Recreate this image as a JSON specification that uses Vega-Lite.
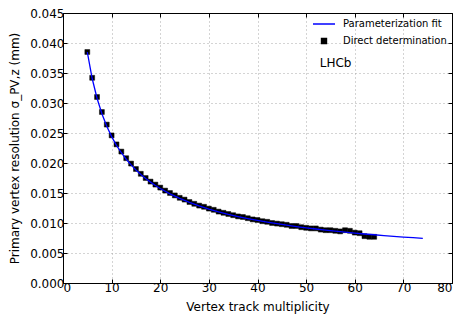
{
  "$schema": "https://vega.github.io/schema/vega-lite/v6.json",
  "width": 389,
  "height": 270,
  "autosize": "none",
  "padding": {"left": 63, "top": 13, "right": 14, "bottom": 39},
  "config": {
    "font": "DejaVu Sans",
    "view": {"stroke": "#000", "strokeWidth": 1},
    "axis": {
      "domainColor": "#000", "tickColor": "#000", "labelColor": "#000", "titleColor": "#000",
      "labelFontSize": 12, "titleFontSize": 12, "titleFontWeight": "normal",
      "labelFont": "DejaVu Sans", "titleFont": "DejaVu Sans",
      "tickSize": -4, "labelPadding": 3,
      "gridColor": "#a8a8a8", "gridDash": [1, 3], "gridWidth": 1
    },
    "legend": {"labelFont": "DejaVu Sans", "labelFontSize": 10, "labelColor": "#000", "symbolStrokeWidth": 1.5, "symbolOpacity": 1}
  },
  "datasets": {
    "fit": [
      {"n": 5, "sigma": 0.03846}, {"n": 6, "sigma": 0.03408}, {"n": 7, "sigma": 0.03079}, {"n": 8, "sigma": 0.02822},
      {"n": 9, "sigma": 0.02613}, {"n": 10, "sigma": 0.0244}, {"n": 11, "sigma": 0.02295}, {"n": 12, "sigma": 0.02171},
      {"n": 13, "sigma": 0.02063}, {"n": 14, "sigma": 0.01969}, {"n": 15, "sigma": 0.01884}, {"n": 16, "sigma": 0.0181},
      {"n": 17, "sigma": 0.01742}, {"n": 18, "sigma": 0.01681}, {"n": 19, "sigma": 0.01626}, {"n": 20, "sigma": 0.01575},
      {"n": 22, "sigma": 0.01486}, {"n": 24, "sigma": 0.01409}, {"n": 26, "sigma": 0.01343}, {"n": 28, "sigma": 0.01284},
      {"n": 30, "sigma": 0.01233}, {"n": 32, "sigma": 0.01187}, {"n": 34, "sigma": 0.01145}, {"n": 36, "sigma": 0.01108},
      {"n": 38, "sigma": 0.01074}, {"n": 40, "sigma": 0.01043}, {"n": 42, "sigma": 0.01015}, {"n": 44, "sigma": 0.00989},
      {"n": 46, "sigma": 0.00964}, {"n": 48, "sigma": 0.00941}, {"n": 50, "sigma": 0.0092}, {"n": 52, "sigma": 0.009},
      {"n": 54, "sigma": 0.00881}, {"n": 56, "sigma": 0.00863}, {"n": 58, "sigma": 0.00848}, {"n": 60, "sigma": 0.00832},
      {"n": 62, "sigma": 0.00817}, {"n": 64, "sigma": 0.00804}, {"n": 66, "sigma": 0.0079}, {"n": 68, "sigma": 0.00778},
      {"n": 70, "sigma": 0.00766}, {"n": 72, "sigma": 0.00755}, {"n": 74, "sigma": 0.00745}
    ],
    "meas": [
      {"n": 5, "sigma": 0.0385}, {"n": 6, "sigma": 0.0342}, {"n": 7, "sigma": 0.031}, {"n": 8, "sigma": 0.0285},
      {"n": 9, "sigma": 0.0264}, {"n": 10, "sigma": 0.0246}, {"n": 11, "sigma": 0.0231}, {"n": 12, "sigma": 0.0219},
      {"n": 13, "sigma": 0.0208}, {"n": 14, "sigma": 0.0199}, {"n": 15, "sigma": 0.019}, {"n": 16, "sigma": 0.0182},
      {"n": 17, "sigma": 0.0175}, {"n": 18, "sigma": 0.0169}, {"n": 19, "sigma": 0.0164}, {"n": 20, "sigma": 0.0159},
      {"n": 21, "sigma": 0.0154}, {"n": 22, "sigma": 0.015}, {"n": 23, "sigma": 0.0146}, {"n": 24, "sigma": 0.0142},
      {"n": 25, "sigma": 0.0139}, {"n": 26, "sigma": 0.0135}, {"n": 27, "sigma": 0.0132}, {"n": 28, "sigma": 0.0129},
      {"n": 29, "sigma": 0.0127}, {"n": 30, "sigma": 0.0124}, {"n": 31, "sigma": 0.0122}, {"n": 32, "sigma": 0.0119},
      {"n": 33, "sigma": 0.0117}, {"n": 34, "sigma": 0.0115}, {"n": 35, "sigma": 0.0113}, {"n": 36, "sigma": 0.0111},
      {"n": 37, "sigma": 0.011}, {"n": 38, "sigma": 0.0108}, {"n": 39, "sigma": 0.0106}, {"n": 40, "sigma": 0.0105},
      {"n": 41, "sigma": 0.0103}, {"n": 42, "sigma": 0.0102}, {"n": 43, "sigma": 0.01}, {"n": 44, "sigma": 0.0099},
      {"n": 45, "sigma": 0.0098}, {"n": 46, "sigma": 0.0097}, {"n": 47, "sigma": 0.0095}, {"n": 48, "sigma": 0.0095},
      {"n": 49, "sigma": 0.0093}, {"n": 50, "sigma": 0.0092}, {"n": 51, "sigma": 0.0091}, {"n": 52, "sigma": 0.0091},
      {"n": 53, "sigma": 0.0089}, {"n": 54, "sigma": 0.0088}, {"n": 55, "sigma": 0.0088}, {"n": 56, "sigma": 0.0087},
      {"n": 57, "sigma": 0.0086}, {"n": 58, "sigma": 0.0088}, {"n": 59, "sigma": 0.0087}, {"n": 60, "sigma": 0.0084},
      {"n": 61, "sigma": 0.0083}, {"n": 62, "sigma": 0.0078}, {"n": 63, "sigma": 0.0077}, {"n": 64, "sigma": 0.0077}
    ],
    "labels": [{"n": 52.8, "sigma": 0.0366, "text": "LHCb"}]
  },
  "layer": [
    {
      "data": {"name": "meas"},
      "mark": {"type": "point", "filled": true, "opacity": 1, "strokeWidth": 0.5},
      "encoding": {
        "x": {"field": "n", "type": "quantitative", "scale": {"domain": [0, 80]},
              "axis": {"values": [0, 10, 20, 30, 40, 50, 60, 70, 80], "title": "Vertex track multiplicity", "grid": true, "titlePadding": 8}},
        "y": {"field": "sigma", "type": "quantitative", "scale": {"domain": [0, 0.045]},
              "axis": {"values": [0, 0.005, 0.01, 0.015, 0.02, 0.025, 0.03, 0.035, 0.04, 0.045], "format": ".3f",
                       "title": "Primary vertex resolution σ_PV,z (mm)", "grid": true, "titlePadding": 8}},
        "color": {"datum": "Direct determination", "type": "nominal",
                  "scale": {"domain": ["Parameterization fit", "Direct determination"], "range": ["#0000ff", "#000000"]},
                  "legend": {"title": null, "orient": "none", "legendX": 249, "legendY": -1, "padding": 0, "rowPadding": 6, "labelOffset": 7}},
        "stroke": {"datum": "Direct determination", "type": "nominal",
                  "scale": {"domain": ["Parameterization fit", "Direct determination"], "range": ["#0000ff", "#000000"]},
                  "legend": {"title": null, "orient": "none", "legendX": 249, "legendY": -1, "padding": 0, "rowPadding": 6, "labelOffset": 7}},
        "shape": {"datum": "Direct determination", "type": "nominal",
                  "scale": {"domain": ["Parameterization fit", "Direct determination"], "range": ["stroke", "square"]},
                  "legend": {"title": null, "orient": "none", "legendX": 249, "legendY": -1, "padding": 0, "rowPadding": 6, "labelOffset": 7}},
        "size": {"datum": "Direct determination", "type": "ordinal",
                  "scale": {"domain": ["Parameterization fit", "Direct determination"], "range": [484, 24]},
                  "legend": {"title": null, "orient": "none", "legendX": 249, "legendY": -1, "padding": 0, "rowPadding": 6, "labelOffset": 7}}
      }
    },
    {
      "data": {"name": "fit"},
      "mark": {"type": "line", "strokeWidth": 1.3},
      "encoding": {
        "x": {"field": "n", "type": "quantitative",
              "axis": {"orient": "top", "labels": false, "title": null, "grid": false, "values": [0, 10, 20, 30, 40, 50, 60, 70, 80]}},
        "y": {"field": "sigma", "type": "quantitative",
              "axis": {"orient": "right", "labels": false, "title": null, "grid": false, "values": [0, 0.005, 0.01, 0.015, 0.02, 0.025, 0.03, 0.035, 0.04, 0.045]}},
        "color": {"datum": "Parameterization fit", "type": "nominal"}
      }
    },
    {
      "data": {"name": "labels"},
      "mark": {"type": "text", "align": "left", "baseline": "middle", "fontSize": 12, "font": "DejaVu Sans", "color": "#000"},
      "encoding": {
        "x": {"field": "n", "type": "quantitative", "axis": null},
        "y": {"field": "sigma", "type": "quantitative", "axis": null},
        "text": {"field": "text"}
      }
    }
  ],
  "resolve": {"axis": {"x": "independent", "y": "independent"}}
}
